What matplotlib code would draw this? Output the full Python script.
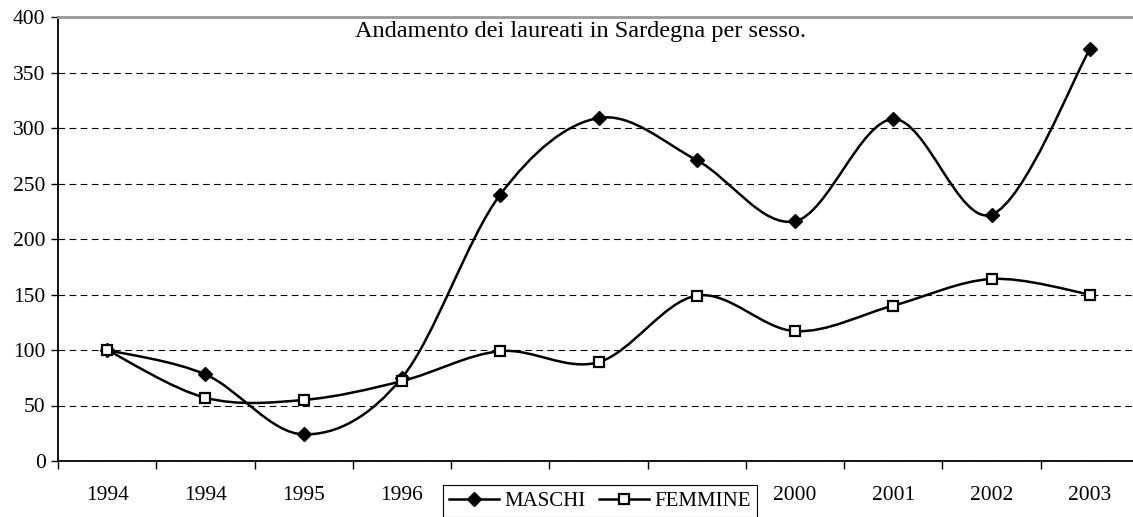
import numpy as np
import matplotlib
matplotlib.use("Agg")
import matplotlib.pyplot as plt
from matplotlib.path import Path
from matplotlib.patches import PathPatch

# dati
anni = ['1994', '1994', '1995', '1996', '1997', '1998', '1999', '2000', '2001', '2002', '2003']
maschi = [100, 78, 24, 75, 240, 309, 271, 216, 308, 222, 371]
femmine = [100, 57, 55, 72, 99, 89, 149, 117, 140, 164, 150]

plt.rcParams['font.family'] = ['Liberation Serif', 'DejaVu Serif']
plt.rcParams['font.size'] = 15.5


def smooth_path(x, y):
    # curva tipo Excel (Bezier con tangenti Catmull-Rom)
    x = np.asarray(x, float)
    y = np.asarray(y, float)
    pts = np.column_stack([x, y])
    ext = np.vstack([pts[0], pts, pts[-1]])
    verts = [pts[0]]
    codes = [Path.MOVETO]
    for i in range(len(pts) - 1):
        p0, p1, p2, p3 = ext[i], ext[i + 1], ext[i + 2], ext[i + 3]
        c1 = p1 + (p2 - p0) / 6
        c2 = p2 - (p3 - p1) / 6
        verts += [c1, c2, p2]
        codes += [Path.CURVE4] * 3
    return Path(verts, codes)


fig = plt.figure(figsize=(11.33, 5.17), dpi=100)
ax = fig.add_axes([58 / 1133, 56 / 517, 1081 / 1133, 444 / 517])

x = np.arange(len(anni))
for serie in (maschi, femmine):
    ax.add_patch(PathPatch(smooth_path(x, serie), fill=False, lw=1.8, color='black', zorder=3))

ax.plot(x, maschi, ls='none', marker='D', ms=7, color='black', zorder=4)
ax.plot(x, femmine, ls='none', marker='s', ms=7.5, mfc='white', mec='black', mew=1.6, zorder=4)

# solo per la legenda
h1, = ax.plot([], [], color='black', lw=1.8, marker='D', ms=7, label='MASCHI')
h2, = ax.plot([], [], color='black', lw=1.8, marker='s', ms=7.5, mfc='white', mec='black', mew=1.6, label='FEMMINE')

ax.set_xlim(-0.5, len(anni) - 0.5)
ax.set_ylim(0, 400)
ax.set_yticks(range(0, 401, 50))
ax.set_xticks(x)
ax.set_xticklabels(anni)
ax.set_xticks(np.arange(-0.5, len(anni), 1), minor=True)
ax.tick_params(axis='x', which='major', length=0, pad=18)
ax.tick_params(axis='x', which='minor', length=6, width=1, direction='out')
ax.tick_params(axis='y', length=5, width=1, direction='out', pad=4)

ax.yaxis.grid(True, ls=(0, (6, 4)), color='black', lw=0.8)
ax.set_axisbelow(True)

ax.spines['right'].set_visible(False)
ax.spines['top'].set_color('#999999')
ax.spines['top'].set_linewidth(2)
ax.spines['left'].set_linewidth(1.3)
ax.spines['bottom'].set_linewidth(1.3)

ax.text(0.4829, 0.99, 'Andamento dei laureati in Sardegna per sesso.', transform=ax.transAxes,
        ha='center', va='top', fontsize=17.5)

leg = ax.legend(handles=[h1, h2], loc='upper center', bbox_to_anchor=(0.5015, -0.054), ncol=2,
                frameon=True, fancybox=False, edgecolor='black', framealpha=1,
                handlelength=2.4, columnspacing=0.65, handletextpad=0.25, borderpad=0.3,
                borderaxespad=0, fontsize=15)
leg.get_frame().set_linewidth(0.8)

fig.savefig('out.png', dpi=100)
